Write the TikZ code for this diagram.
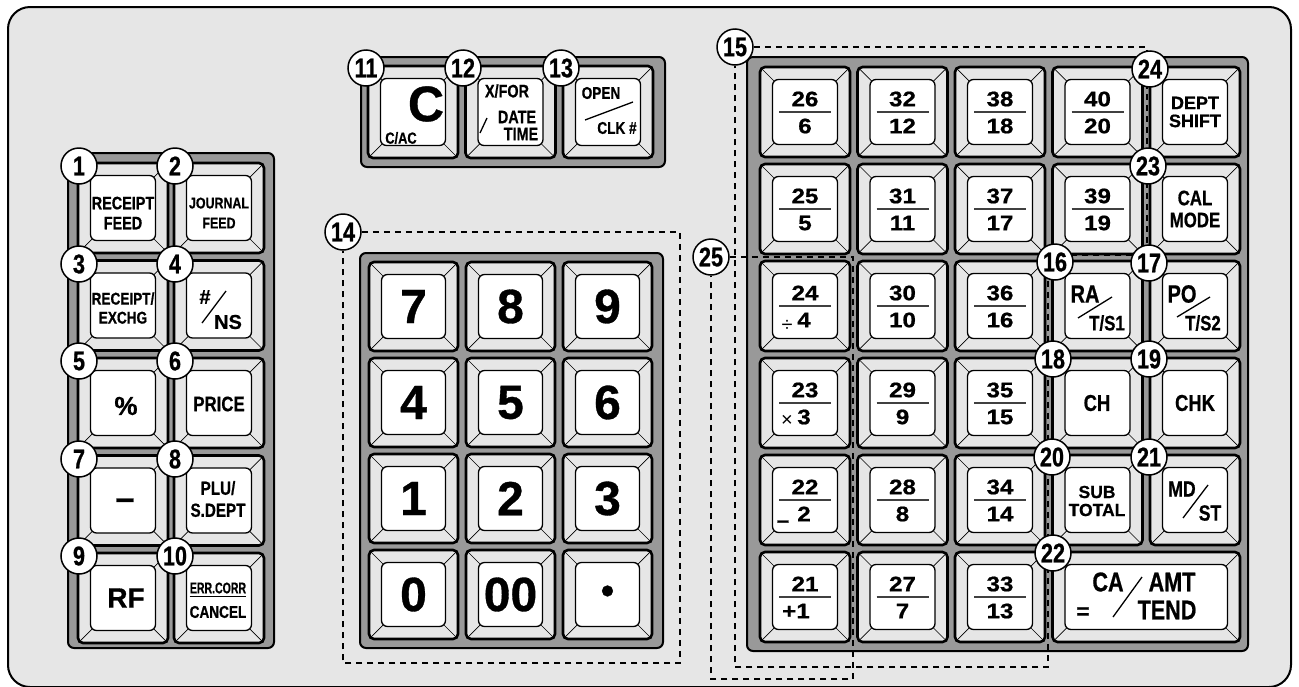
\documentclass[tikz,border=0pt]{standalone}
\usepackage{fontspec}
\setmainfont{Liberation Sans}[BoldFeatures={FakeBold=0.7}]
\newfontfamily\cnd[FakeStretch=0.8,BoldFeatures={FakeBold=0.7}]{Liberation Sans}
\newfontfamily\ncnd[FakeStretch=0.68,BoldFeatures={FakeBold=0.6}]{Liberation Sans}
\newfontfamily\wid[FakeStretch=1.15,BoldFeatures={FakeBold=0.8}]{Liberation Sans}
\pgfdeclarelayer{marks}
\pgfsetlayers{main,marks}
\definecolor{bggray}{HTML}{E6E6E6}
\definecolor{panelgray}{HTML}{999999}
\newcommand{\kfs}[2]{\fontsize{#1}{#2}\selectfont}
% one key: x, y of top left corner, width, height
\newcommand{\keycap}[4]{%
  \filldraw[keybody] (#1,#2) rectangle ++(#3,#4);
  \draw[bevel] (#1+2,#2+2) -- ++(12,12);
  \draw[bevel] (#1+#3-2,#2+2) -- ++(-12,12);
  \draw[bevel] (#1+2,#2+#4-2) -- ++(12,-12);
  \draw[bevel] (#1+#3-2,#2+#4-2) -- ++(-12,-12);
  \filldraw[keytop] (#1+12.5,#2+12.5) rectangle ++(#3-25,#4-25);
}

\begin{document}
\begin{tikzpicture}[x=1pt,y=-1pt,
  panel/.style={fill=panelgray,draw=black,line width=2pt,rounded corners=6pt},
  keybody/.style={fill=bggray,draw=black,line width=2.6pt,rounded corners=5pt},
  keytop/.style={fill=white,draw=black,line width=1.3pt,rounded corners=6pt},
  bevel/.style={line width=.7pt},
  zone/.style={line width=2pt,dash pattern=on 6pt off 5pt},
  callout/.style={circle,draw,fill=white,line width=1.5pt,minimum size=36pt,inner sep=0pt,font=\cnd\bfseries\kfs{27}{27}},
  lbl/.style={inner sep=0pt,align=center},
  numtxt/.style={inner sep=0pt,font=\wid\bfseries\kfs{21}{21}},
  fracbar/.style={line width=1.8pt,black!75},
  slash/.style={line width=1.3pt}]
\useasboundingbox (0,0) rectangle (1299,686);

% frame and panels
\filldraw[fill=bggray,line width=2pt,rounded corners=22pt] (8,7) rectangle (1291,687);
\filldraw[panel] (68,153) rectangle (274,648);
\filldraw[panel] (361,57) rectangle (665,167);
\filldraw[panel] (360,253) rectangle (663,648);
\filldraw[panel] (747,57) rectangle (1248,651);

% keys
\foreach \col in {0,1} \foreach \row in {0,...,4} {\keycap{78+96*\col}{163+97.5*\row}{90}{90}}
\foreach \col in {0,1,2} {\keycap{368+97.5*\col}{66}{90}{92}}
\foreach \col in {0,1,2} \foreach \row in {0,...,3} {\keycap{369+97*\col}{262+96*\row}{89}{89}}
\foreach \col in {0,...,4} \foreach \row in {0,...,4} {\keycap{760+97.5*\col}{67+97*\row}{90}{90}}
\foreach \col in {0,1,2} {\keycap{760+97.5*\col}{552}{90}{90}}
\keycap{1052.5}{552}{187.5}{90}

% numbered callouts
\begin{pgfonlayer}{marks}
\node[callout] (c1) at (79,166) {1};
\node[callout] (c2) at (175,166) {2};
\node[callout] (c3) at (79,264) {3};
\node[callout] (c4) at (175,264) {4};
\node[callout] (c5) at (79,361) {5};
\node[callout] (c6) at (175,361) {6};
\node[callout] (c7) at (79,459) {7};
\node[callout] (c8) at (175,459) {8};
\node[callout] (c9) at (79,556) {9};
\node[callout] (c10) at (175,556) {10};
\node[callout] (c11) at (366,68) {11};
\node[callout] (c12) at (463,68) {12};
\node[callout] (c13) at (561,68) {13};
\node[callout] (c14) at (343,232) {14};
\node[callout] (c15) at (735,47) {15};
\node[callout] (c16) at (1055,262) {16};
\node[callout] (c17) at (1149,263) {17};
\node[callout] (c18) at (1053,359) {18};
\node[callout] (c19) at (1149,359) {19};
\node[callout] (c20) at (1052,457) {20};
\node[callout] (c21) at (1149,457) {21};
\node[callout] (c22) at (1053,553) {22};
\node[callout] (c23) at (1148,166) {23};
\node[callout] (c24) at (1150,69) {24};
\node[callout] (c25) at (711,257) {25};
\end{pgfonlayer}

% dashed zones
\draw[zone] (c14.east) -| (680,663) -| (c14.south);
\draw[zone] (c15.east) -| (1147,255) -| (1048,667) -| (c15.south);
\draw[zone] (c25.east) -| (853,679) -| (c25.south);

% left block
\node[lbl,font=\cnd\bfseries\kfs{18}{20}] (tRfeed) at (123,213) {RECEIPT\\FEED};
\node[lbl,font=\cnd\bfseries\kfs{15.5}{20}] (tJfeed) at (219,213) {JOURNAL\\FEED};
\node[lbl,font=\cnd\bfseries\kfs{17}{19}] (tExchg) at (123,308) {RECEIPT/\\EXCHG};
\node[lbl,font=\bfseries\kfs{20}{20}] (tHash) at (205,297) {\#};
\node[lbl,font=\bfseries\kfs{20}{20}] (tNs) at (228,322) {NS};
\draw[slash] (202,323) -- (226,291);
\node[lbl,font=\bfseries\kfs{26}{26}] (tPct) at (126,406) {\%};
\node[lbl,font=\cnd\bfseries\kfs{21}{21}] (tPrice) at (219,404) {PRICE};
\node[lbl,font=\bfseries\kfs{34}{34}] (tMinus) at (125,504) {–};
\node[lbl,font=\cnd\bfseries\kfs{19}{22}] (tPlu) at (218,499) {PLU/\\S.DEPT};
\node[lbl,font=\bfseries\kfs{28}{28}] (tRf) at (126,598) {RF};
\node[lbl,font=\ncnd\bfseries\kfs{15.5}{15.5}] (tErr) at (218,588) {ERR.CORR};
\node[lbl,font=\cnd\bfseries\kfs{17}{17}] (tCancel) at (218,612) {CANCEL};
\draw[line width=1.2pt] ([yshift=-3pt]tErr.south west) -- ([yshift=-3pt]tErr.south east);

% top block
\node[lbl,font=\bfseries\kfs{50}{50}] (tC) at (426,104) {C};
\node[lbl,font=\cnd\bfseries\kfs{16}{16}] (tCac) at (401,138) {C/AC};
\node[lbl,font=\cnd\bfseries\kfs{18}{18}] (tXfor) at (507,91) {X/FOR};
\node[lbl,font=\cnd\bfseries\kfs{18}{18}] (tDate) at (517,117) {DATE};
\node[lbl,font=\cnd\bfseries\kfs{18}{18}] (tTime) at (521,134) {TIME};
\draw[slash] (480,133) -- (487,118);
\node[lbl,font=\cnd\bfseries\kfs{17}{17}] (tOpen) at (601,93) {OPEN};
\node[lbl,font=\cnd\bfseries\kfs{17}{17}] (tClk) at (617,128) {CLK \#};
\draw[slash] (585,120) -- (633,102);

% ten key
\foreach \col/\row/\txt in {0/0/7,1/0/8,2/0/9,0/1/4,1/1/5,2/1/6,0/2/1,1/2/2,2/2/3,0/3/0,1/3/00}
  \node[lbl,font=\bfseries\kfs{48}{48}] (n\txt) at (413.5+97*\col,306.5+96*\row) {\txt};
\node[lbl,font=\bfseries\kfs{38}{38}] (nDot) at (607.5,594.5) {•};

% department keys
\foreach \col/\row/\n/\d in {0/0/26/6,1/0/32/12,2/0/38/18,3/0/40/20,0/1/25/5,1/1/31/11,2/1/37/17,3/1/39/19,
    1/2/30/10,2/2/36/16,1/3/29/9,2/3/35/15,1/4/28/8,2/4/34/14,1/5/27/7,2/5/33/13} {
  \pgfmathsetmacro\cx{805+97.5*\col}
  \pgfmathsetmacro\cy{112+97*\row}
  \node[numtxt] (num\n) at (\cx,\cy-13) {\n};
  \node[numtxt] (den\n) at (\cx,\cy+14) {\d};
  \draw[fracbar] (\cx-26,\cy) -- (\cx+26,\cy);
}
\foreach \row/\n in {2/24,3/23,4/22,5/21} {
  \pgfmathsetmacro\cy{112+97*\row}
  \node[numtxt] (num\n) at (805,\cy-13) {\n};
  \draw[fracbar] (779,\cy) -- (831,\cy);
}
\node[numtxt] (den24) at (804,320) {4};
\node[lbl,font=\kfs{20}{20}] (tDiv) at (787,326) {÷};
\node[numtxt] (den23) at (804,417) {3};
\node[lbl,font=\kfs{20}{20}] (tMul) at (787,421) {×};
\node[numtxt] (den22) at (804,514) {2};
\node[lbl,font=\bfseries\kfs{22}{22}] (tSub) at (783,524) {–};
\node[numtxt] (den21) at (796,611) {+1};

% function keys
\node[lbl,font=\bfseries\kfs{18}{18}] (tShift) at (1195,112) {DEPT\\SHIFT};
\node[lbl,font=\cnd\bfseries\kfs{21}{22}] (tCal) at (1195,209) {CAL\\MODE};
\node[lbl,font=\cnd\bfseries\kfs{25}{25}] (tRa) at (1085,294) {RA};
\node[lbl,font=\cnd\bfseries\kfs{21}{21}] (tTs1) at (1107,323) {T/S1};
\draw[slash] (1078,318) -- (1112,297);
\node[lbl,font=\cnd\bfseries\kfs{25}{25}] (tPo) at (1182,294) {PO};
\node[lbl,font=\cnd\bfseries\kfs{21}{21}] (tTs2) at (1203,323) {T/S2};
\draw[slash] (1177,317) -- (1210,297);
\node[lbl,font=\cnd\bfseries\kfs{23}{23}] (tCh) at (1097,403) {CH};
\node[lbl,font=\cnd\bfseries\kfs{23}{23}] (tChk) at (1195,403) {CHK};
\node[lbl,font=\bfseries\kfs{17.5}{18}] (tSubt) at (1097,501) {SUB\\TOTAL};
\node[lbl,font=\cnd\bfseries\kfs{22}{22}] (tMd) at (1182,489) {MD};
\node[lbl,font=\cnd\bfseries\kfs{22}{22}] (tSt) at (1210,513) {ST};
\draw[slash] (1183,518) -- (1208,485);
\node[lbl,font=\cnd\bfseries\kfs{27}{27}] (tCa) at (1108,582) {CA};
\node[lbl,font=\cnd\bfseries\kfs{27}{27}] (tAmt) at (1172,582) {AMT};
\node[lbl,font=\cnd\bfseries\kfs{27}{27}] (tTend) at (1167,610) {TEND};
\node[lbl,font=\bfseries\kfs{22}{22}] (tEq) at (1083,613) {=};
\draw[slash] (1113,617) -- (1142,577);
\end{tikzpicture}
\end{document}
